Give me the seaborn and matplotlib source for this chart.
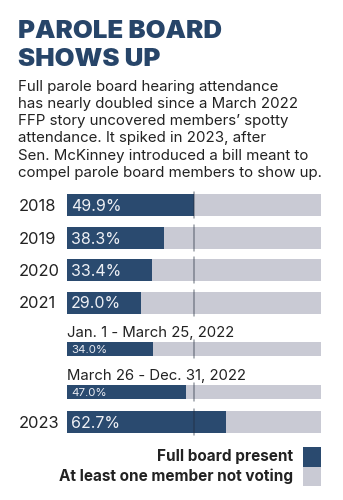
import matplotlib
matplotlib.use("Agg")
import matplotlib.pyplot as plt
import seaborn as sns
import pandas as pd

# Share of hearings where the full parole board was present
periods = ["2018", "2019", "2020", "2021",
           "Jan. 1 - March 25, 2022", "March 26 - Dec. 31, 2022", "2023"]
full_board = [49.9, 38.3, 33.4, 29.0, 34.0, 47.0, 62.7]
is_subperiod = [False, False, False, False, True, True, False]

title_lines = ["PAROLE BOARD", "SHOWS UP"]
subtitle_lines = [
    "Full parole board hearing attendance",
    "has nearly doubled since a March 2022",
    "FFP story uncovered members\u2019 spotty",
    "attendance. It spiked in 2023, after",
    "Sen. McKinney introduced a bill meant to",
    "compel parole board members to show up.",
]
legend_labels = ["Full board present", "At least one member not voting"]

NAVY = "#2a4a6f"
GREY = "#c9cad4"
TITLE = "#274569"
INK = "#222222"

sns.set_theme(style="white")
plt.rcParams["font.family"] = ["Inter", "DejaVu Sans"]

W, H = 343, 500
fig = plt.figure(figsize=(W / 100, H / 100), dpi=100)
fig.patch.set_facecolor("white")


def fx(x):
    return x / W


def fy(y):
    return 1 - y / H


def pt(px):
    return px * 0.72


# Heading block
for i, line in enumerate(title_lines):
    fig.text(fx(18), fy(38.5 + i * 27), line, fontsize=pt(25.8), fontweight="black",
             color=TITLE, va="baseline", ha="left")
for i, line in enumerate(subtitle_lines):
    fig.text(fx(18.5), fy(90.5 + i * 17.3), line, fontsize=pt(15.0),
             color=INK, va="baseline", ha="left")

# Bar rows: (center y in px, height in px)
BAR_L, BAR_R = 67, 321
row_layout = [(205, 22), (238, 22), (270, 22), (302.5, 22), (349, 14), (392, 14), (422, 22)]

df = pd.DataFrame({"period": periods, "full": full_board, "sub": is_subperiod})

for (cy, h), (_, row) in zip(row_layout, df.iterrows()):
    ax = fig.add_axes([fx(BAR_L), fy(cy + h / 2), (BAR_R - BAR_L) / W, h / H])
    rdf = pd.DataFrame({"period": [row["period"]], "full": [row["full"]], "total": [100.0]})
    sns.barplot(data=rdf, x="total", y="period", orient="h", color=GREY,
                saturation=1, width=1, errorbar=None, linewidth=0, ax=ax)
    sns.barplot(data=rdf, x="full", y="period", orient="h", color=NAVY,
                saturation=1, width=1, errorbar=None, linewidth=0, ax=ax)
    ax.set_xlim(0, 100)
    ax.set_ylim(0.5, -0.5)
    ax.axis("off")
    ext = 2.0 / h
    ax.axvline(50, ymin=-ext, ymax=1 + ext, color="#1f2a3a", alpha=0.45,
               lw=1.1, clip_on=False)
    label = f"{row['full']:.1f}%"
    if row["sub"]:
        ax.text(1.6, 0.05, label, color="#e9ebf2", fontsize=pt(11.5),
                va="center", ha="left")
        fig.text(fx(BAR_L), fy(cy - h / 2 - 5), row["period"], fontsize=pt(14.9),
                 color=INK, va="baseline", ha="left")
    else:
        ax.text(1.6, 0.05, label, color="#eef0f5", fontsize=pt(16),
                va="center", ha="left")
        fig.text(fx(18.5), fy(cy), row["period"], fontsize=pt(16.5),
                 color=INK, va="center_baseline", ha="left")

# Legend
sw_x, sw_w = 302.5, 18.5
for i, (lab, col) in enumerate(zip(legend_labels, [NAVY, GREY])):
    top = 447 + i * 19.5
    lax = fig.add_axes([fx(sw_x), fy(top + 19.5), sw_w / W, 19.5 / H])
    lax.set_facecolor(col)
    lax.set_xticks([])
    lax.set_yticks([])
    for s in lax.spines.values():
        s.set_visible(False)
    fig.text(fx(293), fy(top + 14.5), lab, fontsize=pt(15.3), fontweight="bold",
             color=INK, va="baseline", ha="right")

fig.savefig("out.png", dpi=100, facecolor="white")
